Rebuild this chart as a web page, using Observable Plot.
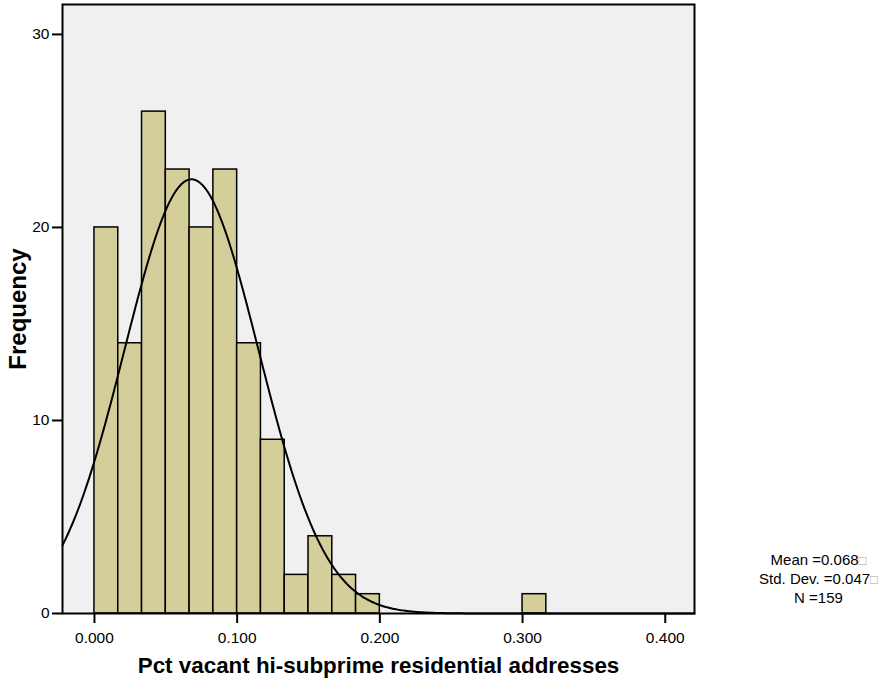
<!DOCTYPE html>
<html><head><meta charset="utf-8">
<script src="https://cdn.jsdelivr.net/npm/d3@7"></script>
<script src="https://cdn.jsdelivr.net/npm/@observablehq/plot@0.6"></script>
<style>body{margin:0;background:#fff;font-family:"Liberation Sans",Arial,sans-serif;}svg{display:block}</style>
</head><body><div id="chart"></div>
<script>
const binStarts = [0.0, 1/60, 2/60, 3/60, 4/60, 5/60, 6/60, 7/60, 8/60, 9/60, 10/60, 11/60, 18/60];
const binWidth = 1/60;
const counts = [20, 14, 26, 23, 20, 23, 14, 9, 2, 4, 2, 1, 1];
const xTicks = [0, 0.1, 0.2, 0.3, 0.4];
const yTicks = [0, 10, 20, 30];
const mean = 0.068, sd = 0.047, N = 159;
const statLines = ["Mean =0.068\u25A1", "Std. Dev. =0.047\u25A1", "N =159"];

const bins = binStarts.map((s, i) => ({x1: s, x2: s + binWidth, y: counts[i]}));
const xDomain = [-0.0224, 0.4205];
const curve = d3.range(0, 401).map(i => {
  const x = xDomain[0] + (xDomain[1] - xDomain[0]) * i / 400;
  const y = N * binWidth * Math.exp(-0.5 * ((x - mean) / sd) ** 2) / (sd * Math.sqrt(2 * Math.PI));
  return {x, y};
});

const chart = Plot.plot({
  width: 890, height: 686,
  marginLeft: 62, marginRight: 196, marginTop: 4, marginBottom: 73,
  style: {fontFamily: '"Liberation Sans", Arial, sans-serif', fontSize: "16px", background: "#fff", color: "#000"},
  x: {domain: xDomain},
  y: {domain: [0, 31.55]},
  marks: [
    Plot.frame({fill: "#f0f0f0", stroke: null}),
    Plot.rectY(bins, {x1: "x1", x2: "x2", y: "y", fill: "#d4cf9a", stroke: "#000", strokeWidth: 1.5}),
    Plot.line(curve, {x: "x", y: "y", stroke: "#000", strokeWidth: 2, curve: "linear"}),
    Plot.frame({stroke: "#000", strokeWidth: 2}),
    Plot.axisX(xTicks, {tickSize: 10, tickPadding: 8, tickFormat: d3.format(".3f"), strokeWidth: 2, fontSize: 15.5, label: null}),
    Plot.axisY(yTicks, {tickSize: 10, tickPadding: 3, strokeWidth: 2, fontSize: 15.5, label: null}),
    Plot.text(["Pct vacant hi-subprime residential addresses"], {frameAnchor: "bottom", dy: 59, fontSize: 22.4, fontWeight: "bold"}),
    Plot.text(["Frequency"], {frameAnchor: "left", textAnchor: "middle", dx: -44.5, rotate: -90, fontSize: 24, fontWeight: "bold"}),
    Plot.text([statLines.join("\n")], {frameAnchor: "bottom-right", dx: 124, dy: -11, textAnchor: "middle", lineAnchor: "bottom", fontSize: 15, lineHeight: 19 / 15})
  ]
});
d3.select(chart).selectAll("tspan").each(function() {
  const t = this.textContent;
  if (statLines.includes(t) && t.endsWith("\u25A1")) {
    this.textContent = t.slice(0, -1);
    d3.select(this).append("tspan").attr("fill", "#a8a8a8").attr("font-size", "13px").text("\u25A1");
  }
});
document.getElementById("chart").appendChild(chart);
</script></body></html>
